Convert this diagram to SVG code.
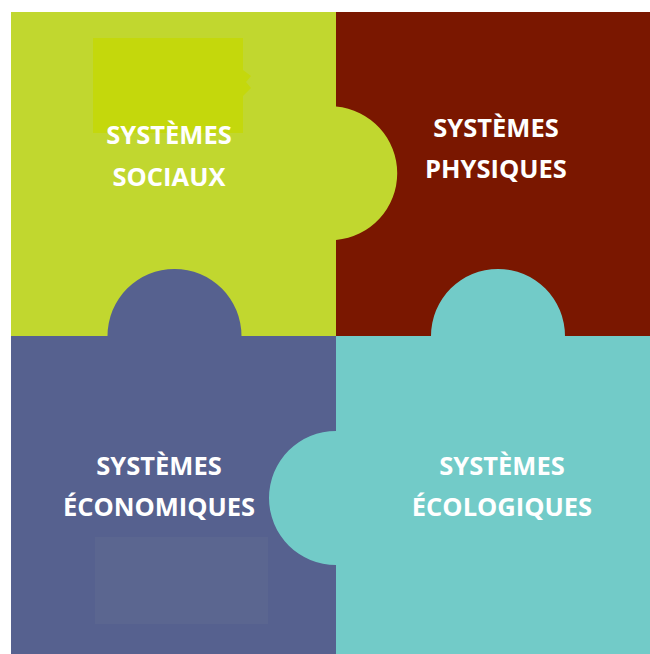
<svg xmlns="http://www.w3.org/2000/svg" width="650" height="654" viewBox="0 0 650 654">
  <style>
    .lbl { font-family: "Open Sans", "Liberation Sans", sans-serif; font-weight: 700; font-size: 25.5px; fill: #ffffff; text-anchor: middle; }
  </style>
  <rect width="650" height="654" fill="#ffffff"/>
  <g id="physiques">
    <rect x="336" y="12" width="314" height="324" fill="#7A1700"/>
    <text class="lbl" x="496" y="137">SYSTÈMES</text>
    <text class="lbl" x="496" y="178">PHYSIQUES</text>
  </g>
  <g id="sociaux">
    <path d="M11,12 H336 V106.5 A67,67 0 0 1 336,240 V336 H11 Z" fill="#C1D72F"/>
    <rect x="93" y="38" width="150" height="95" fill="#C4D80C"/>
    <path d="M243,70 L251,76 L246,82 L251,88 L243,96 Z" fill="#C4D80C"/>
    <text class="lbl" x="169" y="144">SYSTÈMES</text>
    <text class="lbl" x="169" y="186">SOCIAUX</text>
  </g>
  <g id="economiques">
    <path d="M11,336 H107.5 A67,67 0 0 1 241.5,336 H336 V654 H11 Z" fill="#56618F"/>
    <rect x="95" y="537" width="173" height="87" fill="#5B6690"/>
    <text class="lbl" x="159" y="475">SYSTÈMES</text>
    <text class="lbl" x="159" y="516">ÉCONOMIQUES</text>
  </g>
  <g id="ecologiques">
    <path d="M336,336 H431 A67,67 0 0 1 565,336 H650 V654 H336 V565 A67,67 0 0 1 336,431 Z" fill="#72CBC8"/>
    <text class="lbl" x="502" y="475">SYSTÈMES</text>
    <text class="lbl" x="502" y="516">ÉCOLOGIQUES</text>
  </g>
</svg>
